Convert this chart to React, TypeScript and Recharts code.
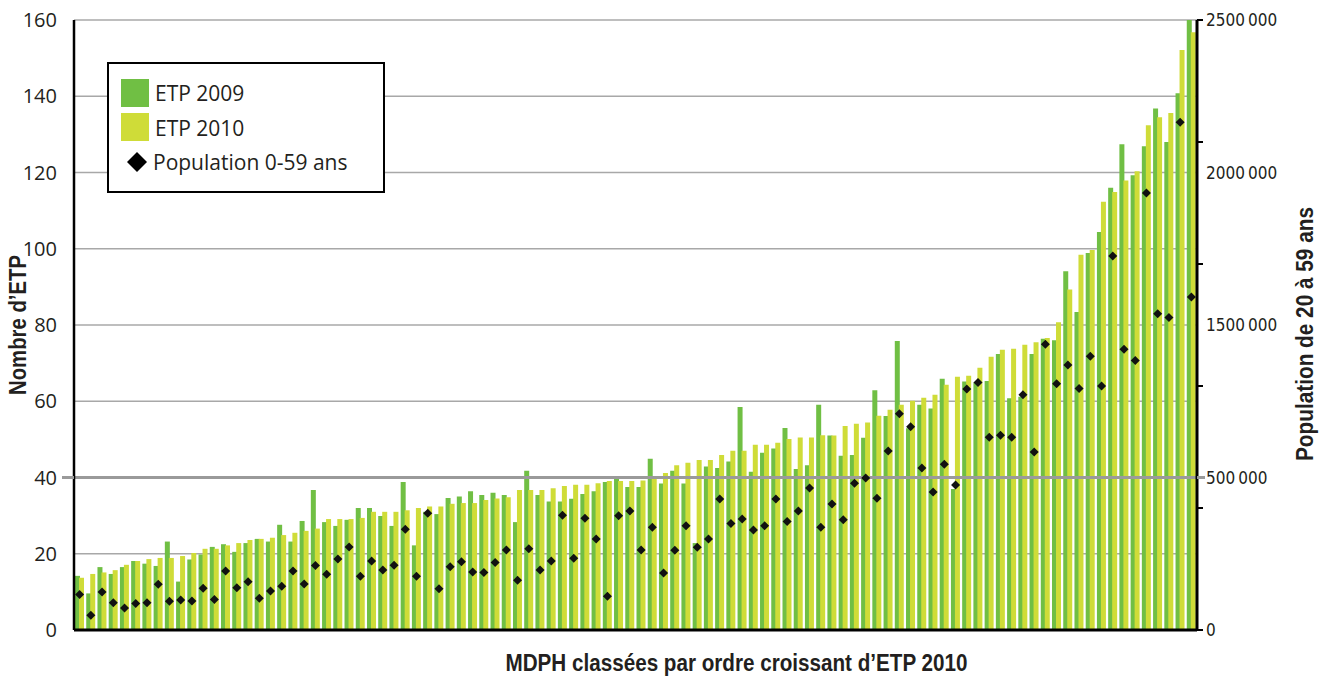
import { Bar, ComposedChart, CartesianGrid, Label, ReferenceLine, Scatter, XAxis, YAxis } from 'recharts'

const etp2009 = [
  14.2, 9.6, 16.5, 14.7, 16.5, 18.1, 17.4, 16.8, 23.2, 12.7,
  18.5, 19.8, 21.8, 22.5, 20.5, 22.8, 23.9, 23.2, 27.6, 23.2,
  28.6, 36.7, 28.3, 27.3, 28.9, 32.0, 32.0, 29.9, 27.3, 38.8,
  22.2, 31.0, 30.4, 34.6, 35.0, 36.4, 35.4, 36.0, 35.4, 28.3,
  41.8, 35.4, 33.7, 33.7, 34.4, 35.7, 36.4, 38.8, 40.4, 37.5,
  37.5, 44.9, 38.4, 41.8, 38.4, 22.8, 42.9, 42.5, 44.2, 58.5,
  41.5, 46.5, 47.6, 53.0, 42.2, 43.2, 59.1, 51.0, 45.7, 45.9,
  50.4, 62.9, 56.1, 75.8, 52.9, 59.1, 58.1, 65.9, 37.0, 65.2,
  64.9, 65.3, 72.4, 60.8, 61.2, 72.4, 76.4, 76.0, 94.1, 83.4,
  98.9, 104.4, 116.0, 127.4, 119.3, 126.9, 136.8, 128.0, 140.8, 161,
]

const etp2010 = [
  13.7, 14.7, 15.1, 15.7, 17.1, 18.1, 18.6, 18.9, 18.9, 19.4,
  20.2, 21.3, 21.3, 22.2, 22.8, 23.6, 23.9, 24.2, 24.9, 25.5,
  26.0, 26.6, 29.1, 29.1, 29.1, 29.4, 31.0, 31.0, 31.0, 31.4,
  32.0, 32.4, 32.4, 33.1, 33.3, 33.3, 34.1, 34.5, 34.8, 36.7,
  36.7, 36.7, 37.2, 37.8, 38.1, 38.1, 38.5, 39.1, 39.1, 39.1,
  39.2, 40.1, 41.2, 43.2, 43.9, 44.6, 44.6, 45.9, 47.0, 47.0,
  48.6, 48.6, 49.1, 50.1, 50.5, 50.5, 51.1, 51.0, 53.5, 54.1,
  54.4, 56.2, 57.8, 59.1, 60.1, 60.9, 61.7, 64.3, 66.4, 66.7,
  68.8, 71.7, 73.5, 73.8, 74.8, 75.5, 76.6, 80.7, 89.3, 98.4,
  99.7, 112.3, 114.9, 117.9, 120.3, 132.4, 134.5, 135.6, 152.1, 156.8,
]

// population 0-59 ans
const population = [
  146000, 60000, 156000, 112000, 90000, 109000, 112000, 187000, 118000, 123000,
  119000, 171000, 125000, 242000, 173000, 198000, 130000, 160000, 179000, 242000,
  189000, 264000, 228000, 291000, 340000, 220000, 283000, 246000, 265000, 413000,
  220000, 478000, 169000, 259000, 280000, 238000, 236000, 277000, 328000, 204000,
  333000, 246000, 283000, 470000, 294000, 458000, 373000, 138000, 468000, 488000,
  328000, 421000, 234000, 327000, 427000, 339000, 373000, 537000, 436000, 455000,
  410000, 427000, 537000, 445000, 488000, 582000, 421000, 516000, 452000, 601000,
  623000, 540000, 734000, 886000, 833000, 664000, 566000, 679000, 594000, 988000,
  1014000, 790000, 798000, 790000, 964000, 730000, 1171000, 1009000, 1086000, 990000,
  1122000, 1000000, 1533000, 1151000, 1105000, 1791000, 1296000, 1281000, 2081000, 1365000,
]

const etpTicks = [0, 20, 40, 60, 80, 100, 120, 140, 160]
const popTickMarks = [0, 500000, 1000000, 1500000, 2000000, 2500000]
const popLabelPositions = [0, 625000, 1250000, 1875000, 2500000]
const popLabelTexts = ['0', '500\u2009000', '1500\u2009000', '2000\u2009000', '2500\u2009000']

const seriesNames = ['ETP 2009', 'ETP 2010', 'Population 0-59 ans']

const data = etp2009.map((v, i) => ({
  id: i + 1,
  etp2009: v,
  etp2010: etp2010[i],
  pop: population[i],
}))

const GREEN = '#70bf44'
const YELLOW = '#cfdc38'
const narrow = "'Liberation Sans Narrow', 'DejaVu Sans Condensed', sans-serif"
const titleFont = "'Liberation Sans', Arial, sans-serif"
const body = "'Open Sans', 'Noto Sans', sans-serif"

const LeftTick = ({ x, y, payload }: any) => (
  <g>
    {payload.value === 40 && (
      <line x1={x - 12} x2={x} y1={y} y2={y} stroke="#9a9a9a" strokeWidth={3} />
    )}
    <text x={x - 17} y={y} dy="0.36em" textAnchor="end" fontSize={20} fill="#231f20" fontFamily={body}>
      {payload.value}
    </text>
  </g>
)

const RightTick = ({ x, y, payload }: any) => {
  const v = payload.value
  const idx = popLabelPositions.indexOf(v)
  return (
    <g>
      {popTickMarks.includes(v) && (
        <line x1={x} x2={x + 6} y1={y} y2={y} stroke="#000" strokeWidth={2} />
      )}
      {v === 625000 && (
        <line x1={x} x2={x + 8} y1={y} y2={y} stroke="#9a9a9a" strokeWidth={3} />
      )}
      {idx >= 0 && (
        <text x={x + 9} y={y} dy="0.36em" textAnchor="start" fontSize={17} fill="#231f20" fontFamily={narrow}>
          {popLabelTexts[idx]}
        </text>
      )}
    </g>
  )
}

const Diamond = ({ cx, cy }: any) => {
  if (cx == null || cy == null) return null
  const r = 4.5
  return (
    <polygon
      points={`${cx},${cy - r} ${cx + r},${cy} ${cx},${cy + r} ${cx - r},${cy}`}
      fill="#111"
    />
  )
}

const LeftTitle = ({ viewBox }: any) => {
  const cy = viewBox.y + 305
  return (
    <text
      transform={`translate(26, ${cy}) rotate(-90)`}
      textAnchor="middle"
      fontSize={24}
      fontWeight="bold"
      fill="#231f20"
      fontFamily={titleFont}
      textLength={140}
      lengthAdjust="spacingAndGlyphs"
    >
      Nombre d’ETP
    </text>
  )
}

const RightTitle = ({ viewBox }: any) => {
  const cy = viewBox.y + 314
  return (
    <text
      transform={`translate(${viewBox.x + 116}, ${cy}) rotate(-90)`}
      textAnchor="middle"
      fontSize={24}
      fontWeight="bold"
      fill="#231f20"
      fontFamily={titleFont}
      textLength={254}
      lengthAdjust="spacingAndGlyphs"
    >
      Population de 20 à 59 ans
    </text>
  )
}

const BottomTitle = ({ viewBox }: any) => (
  <text
    x={viewBox.x + viewBox.width / 2 + 101}
    y={viewBox.y + 41}
    textAnchor="middle"
    fontSize={23}
    fontWeight="bold"
    fill="#231f20"
    fontFamily={titleFont}
    textLength={462}
    lengthAdjust="spacingAndGlyphs"
  >
    MDPH classées par ordre croissant d’ETP 2010
  </text>
)

const LegendBox = () => (
  <div
    style={{
      position: 'absolute',
      left: 107,
      top: 62,
      width: 278,
      height: 131,
      boxSizing: 'border-box',
      border: '2.5px solid #000',
      background: '#fff',
      fontFamily: body,
      fontSize: 21,
      color: '#231f20',
    }}
  >
    <div style={{ position: 'absolute', left: 12, top: 15, width: 28, height: 28, background: GREEN }} />
    <div style={{ position: 'absolute', left: 46, top: 14, lineHeight: '30px' }}>{seriesNames[0]}</div>
    <div style={{ position: 'absolute', left: 12, top: 49, width: 28, height: 28, background: YELLOW }} />
    <div style={{ position: 'absolute', left: 46, top: 49, lineHeight: '30px' }}>{seriesNames[1]}</div>
    <svg style={{ position: 'absolute', left: 17, top: 87 }} width={22} height={22}>
      <polygon points="11,1 21,11 11,21 1,11" fill="#000" />
    </svg>
    <div style={{ position: 'absolute', left: 44, top: 83, lineHeight: '30px' }}>{seriesNames[2]}</div>
  </div>
)

export default function App() {
  return (
    <div style={{ position: 'absolute', left: 0, top: 0, width: 1322, height: 677, background: '#fff' }}>
      <ComposedChart
        width={1322}
        height={677}
        data={data}
        margin={{ top: 20, right: 0, bottom: 0, left: 0 }}
        barGap={-1}
      >
        <CartesianGrid yAxisId="left" vertical={false} stroke="#a8a8a8" strokeWidth={1.5} />
        <XAxis
          dataKey="id"
          tick={false}
          tickLine={false}
          height={47}
          axisLine={{ stroke: '#000', strokeWidth: 3 }}
        >
          <Label content={<BottomTitle />} />
        </XAxis>
        <YAxis
          yAxisId="left"
          width={74}
          domain={[0, 160]}
          ticks={etpTicks}
          interval={0}
          allowDataOverflow
          tickLine={false}
          tickSize={0}
          tickMargin={0}
          tick={<LeftTick />}
          axisLine={{ stroke: '#000', strokeWidth: 2.5 }}
        >
          <Label content={<LeftTitle />} />
        </YAxis>
        <YAxis
          yAxisId="right"
          orientation="right"
          width={125}
          domain={[0, 2500000]}
          ticks={[0, 500000, 625000, 1000000, 1250000, 1500000, 1875000, 2000000, 2500000]}
          interval={0}
          tickLine={false}
          tickSize={0}
          tickMargin={0}
          tick={<RightTick />}
          axisLine={{ stroke: '#000', strokeWidth: 3 }}
        >
          <Label content={<RightTitle />} />
        </YAxis>
        <Bar yAxisId="left" dataKey="etp2009" name={seriesNames[0]} fill={GREEN} barSize={5} isAnimationActive={false} />
        <Bar yAxisId="left" dataKey="etp2010" name={seriesNames[1]} fill={YELLOW} barSize={5} isAnimationActive={false} />
        <ReferenceLine yAxisId="left" y={40} stroke="#9a9a9a" strokeWidth={3} />
        <Scatter yAxisId="right" dataKey="pop" name={seriesNames[2]} shape={<Diamond />} isAnimationActive={false} />
      </ComposedChart>
      <LegendBox />
    </div>
  )
}
